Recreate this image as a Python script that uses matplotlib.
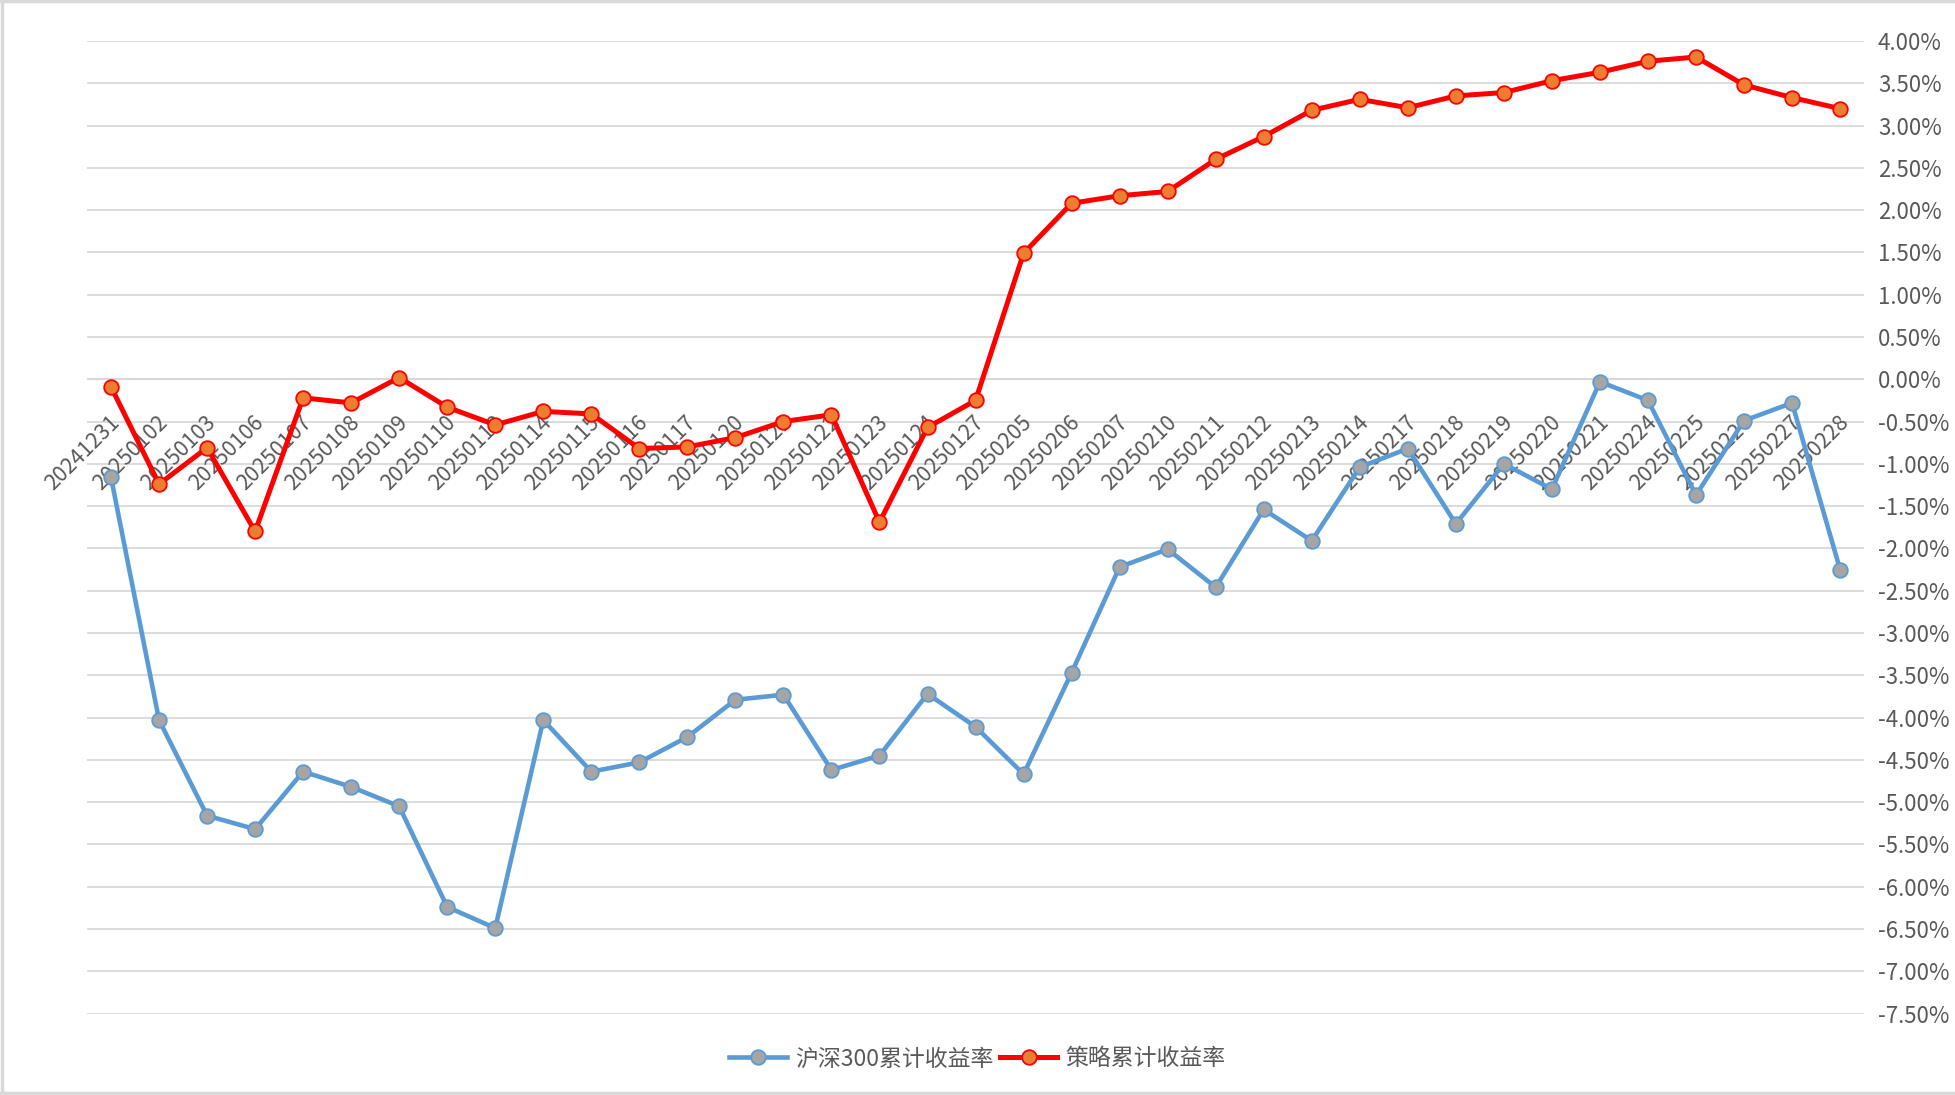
import matplotlib
matplotlib.use("Agg")
import matplotlib.pyplot as plt
from matplotlib.ticker import FixedLocator, FuncFormatter
from matplotlib.transforms import ScaledTranslation
from matplotlib.lines import Line2D

plt.rcParams['font.family'] = ['Noto Sans CJK SC', 'DejaVu Sans']

dates = ["20241231", "20250102", "20250103", "20250106", "20250107", "20250108",
         "20250109", "20250110", "20250113", "20250114", "20250115", "20250116",
         "20250117", "20250120", "20250121", "20250122", "20250123", "20250124",
         "20250127", "20250205", "20250206", "20250207", "20250210", "20250211",
         "20250212", "20250213", "20250214", "20250217", "20250218", "20250219",
         "20250220", "20250221", "20250224", "20250225", "20250226", "20250227",
         "20250228"]

hs300 = [-1.16, -4.03, -5.16, -5.32, -4.64, -4.82, -5.05, -6.24, -6.49, -4.03,
         -4.64, -4.53, -4.23, -3.79, -3.73, -4.62, -4.45, -3.72, -4.11, -4.67,
         -3.47, -2.22, -2.01, -2.46, -1.54, -1.91, -1.04, -0.82, -1.71, -1.00,
         -1.30, -0.03, -0.25, -1.37, -0.49, -0.28, -2.25]

strategy = [-0.09, -1.24, -0.81, -1.80, -0.22, -0.28, 0.02, -0.33, -0.54, -0.38,
            -0.41, -0.82, -0.80, -0.69, -0.50, -0.42, -1.69, -0.57, -0.25, 1.49,
            2.08, 2.17, 2.22, 2.60, 2.87, 3.18, 3.31, 3.21, 3.35, 3.39,
            3.53, 3.63, 3.76, 3.81, 3.48, 3.33, 3.20]

series_names = ["沪深300累计收益率", "策略累计收益率"]

y_ticks = [4.0 - 0.5 * k for k in range(24)]

TEXT = "#595959"
GRID = "#D9D9D9"

fig = plt.figure(figsize=(19.55, 10.95), dpi=100)
ax = fig.add_axes([0.0445, 0.0744, 0.909, 0.8882])

x = list(range(len(dates)))

ax.set_xlim(-0.5, len(dates) - 0.5)
ax.set_ylim(-7.5, 4.0)

for s in ax.spines.values():
    s.set_visible(False)

ax.yaxis.set_major_locator(FixedLocator(y_ticks))
ax.yaxis.set_major_formatter(FuncFormatter(lambda v, p: "%.2f%%" % (0.0 if abs(v) < 1e-9 else v)))
ax.yaxis.tick_right()
ax.tick_params(axis='y', length=0, pad=10, labelsize=16, labelcolor=TEXT)
ax.set_xticks([])
ax.grid(axis='y', color=GRID, linewidth=1.3, zorder=0)
ax.set_axisbelow(True)
ax.axhline(0, color="#CFCFCF", linewidth=1.5, zorder=0.5)

off = ScaledTranslation(0.13, -0.32, fig.dpi_scale_trans)
for i, d in enumerate(dates):
    ax.text(i, 0, d, rotation=45, ha='right', va='top', fontsize=15.5,
            color=TEXT, transform=ax.transData + off, zorder=1, clip_on=False)

ax.plot(x, hs300, color="#5B9BD5", linewidth=3.3, marker='o', markersize=10.5,
        markerfacecolor="#A5A5A5", markeredgecolor="#5B9BD5", markeredgewidth=1.3,
        label=series_names[0], zorder=3, clip_on=False)
ax.plot(x, strategy, color="#FF0000", linewidth=3.6, marker='o', markersize=10.5,
        markerfacecolor="#ED7D31", markeredgecolor="#FF0000", markeredgewidth=1.3,
        label=series_names[1], zorder=4, clip_on=False)

leg = fig.legend(loc='center', bbox_to_anchor=(0.5, 0.033), ncol=2, frameon=False,
                 fontsize=16.5, handlelength=2.5, handletextpad=0.35,
                 columnspacing=0.3, labelcolor=TEXT)

# chart border (left, top, bottom)
for xs, ys in [([0.001, 0.001], [0, 1]), ([0, 1], [0.999, 0.999]), ([0, 1], [0.0015, 0.0015])]:
    fig.add_artist(Line2D(xs, ys, transform=fig.transFigure, color=GRID, linewidth=2.5))

fig.savefig("out.png", dpi=100, facecolor="white")
